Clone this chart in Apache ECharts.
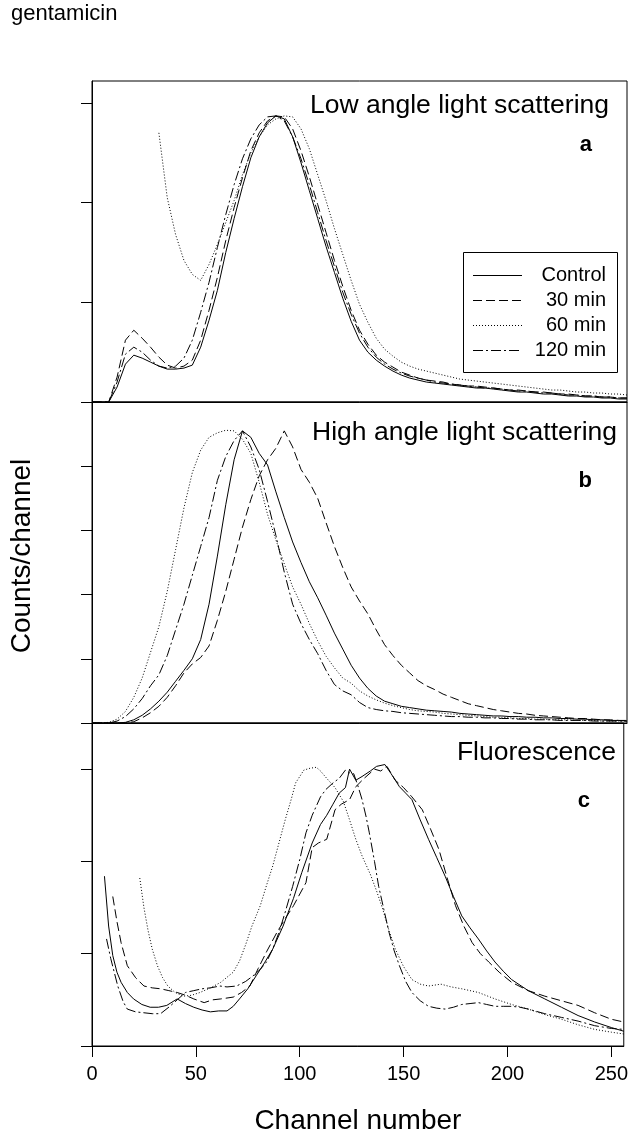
<!DOCTYPE html>
<html><head><meta charset="utf-8">
<script src="https://cdn.jsdelivr.net/npm/echarts@6/dist/echarts.min.js"></script>
<style>html,body{margin:0;padding:0;background:#fff}#c{width:631px;height:1136px}</style>
</head><body><div id="c"></div>
<script>
// Channel grid used for panels a and b
const CH = [0,4,8,12,16,20,24,28,32,36,40,44,48,52,56,60,64,68,72,76,80,84,88,92,96,100,104,108,112,116,120,124,128,132,136,140,144,148,152,156,160,164,168,172,176,180,184,188,192,196,200,204,208,212,216,220,224,228,232,236,240,244,248,252,256];
const SERIES_NAMES = ['Control','30 min','60 min','120 min'];
const X_TICKS = [0,50,100,150,200,250];
const Y_TICKS_A = [0,1,2,3];
const Y_TICKS_B = [0,1,2,3,4];
const Y_TICKS_C = [0,1,2,3];

// Panel a: Low angle light scattering
const ctrlA = [0,0,0,0.15,0.38,0.47,0.44,0.40, 0.36,0.33,0.33,0.34,0.37,0.55,0.82,1.12, 1.50,1.84,2.16,2.45,2.66,2.80,2.87,2.84, 2.66,2.40,2.12,1.84,1.56,1.30,1.04,0.81, 0.62,0.50,0.42,0.36,0.31,0.27,0.24,0.22, 0.20,0.19,0.18,0.17,0.16,0.15,0.14,0.14, 0.13,0.12,0.11,0.10,0.10,0.09,0.08,0.08, 0.07,0.06,0.06,0.05,0.05,0.04,0.04,0.03, 0.03];
const m30A = [0,0,0,0.25,0.62,0.72,0.64,0.55, 0.45,0.37,0.34,0.36,0.42,0.62,0.92,1.25, 1.62,1.95,2.25,2.52,2.70,2.82,2.87,2.86, 2.74,2.52,2.26,1.98,1.70,1.42,1.16,0.92, 0.72,0.58,0.47,0.40,0.35,0.30,0.27,0.24, 0.22,0.21,0.20,0.18,0.17,0.16,0.16,0.15, 0.14,0.13,0.12,0.12,0.11,0.10,0.10,0.09, 0.08,0.08,0.07,0.06,0.06,0.05,0.05,0.04, 0.04];
const m60A = [null,null,null,null,null,null,null,null, 2.70,2.05,1.68,1.42,1.28,1.22,1.38,1.58, 1.80,2.02,2.28,2.50,2.66,2.78,2.84,2.87, 2.86,2.74,2.54,2.28,2.02,1.74,1.48,1.22, 0.98,0.80,0.64,0.53,0.46,0.40,0.36,0.33, 0.31,0.29,0.27,0.25,0.23,0.22,0.21,0.20, 0.19,0.18,0.17,0.16,0.15,0.14,0.13,0.12, 0.12,0.11,0.10,0.10,0.09,0.09,0.08,0.08, 0.07];
const m120A = [0,0,0,0.20,0.48,0.55,0.50,0.42, 0.36,0.34,0.36,0.44,0.62,0.90,1.20,1.55, 1.88,2.18,2.44,2.64,2.78,2.86,2.87,2.82, 2.66,2.44,2.18,1.90,1.62,1.36,1.10,0.88, 0.69,0.55,0.45,0.38,0.33,0.29,0.26,0.24, 0.22,0.20,0.19,0.18,0.17,0.16,0.15,0.14, 0.14,0.13,0.12,0.11,0.11,0.10,0.09,0.09, 0.08,0.07,0.07,0.06,0.06,0.05,0.05,0.04, 0.04];

// Panel b: High angle light scattering
const ctrlB = [0,0,0,0,0.01,0.05,0.12,0.22, 0.34,0.48,0.65,0.82,1.00,1.30,1.85,2.60, 3.40,4.10,4.55,4.45,4.20,4.02,3.60,3.20, 2.82,2.50,2.20,1.95,1.68,1.40,1.15,0.90, 0.70,0.54,0.42,0.34,0.30,0.26,0.24,0.22, 0.20,0.19,0.18,0.17,0.15,0.14,0.13,0.12, 0.11,0.11,0.10,0.10,0.09,0.09,0.08,0.08, 0.07,0.07,0.06,0.06,0.05,0.05,0.04,0.04, 0.03];
const m30B = [0,0,0,0,0,0.02,0.08,0.16, 0.26,0.40,0.58,0.78,0.92,1.02,1.20,1.60, 2.05,2.55,3.05,3.48,3.85,4.10,4.28,4.55, 4.30,3.95,3.75,3.50,3.12,2.75,2.42,2.12, 1.90,1.70,1.45,1.22,1.05,0.90,0.78,0.66, 0.58,0.52,0.45,0.40,0.35,0.30,0.27,0.24, 0.21,0.19,0.17,0.15,0.14,0.12,0.11,0.10, 0.09,0.08,0.07,0.07,0.06,0.05,0.05,0.04, 0.04];
const m60B = [0,0,0.01,0.06,0.18,0.40,0.70,1.10, 1.50,2.05,2.70,3.35,3.90,4.25,4.45,4.52, 4.56,4.55,4.42,4.20,3.75,3.25,2.85,2.48, 2.12,1.85,1.55,1.28,1.04,0.86,0.70,0.62, 0.50,0.42,0.36,0.31,0.27,0.24,0.21,0.19, 0.18,0.17,0.15,0.14,0.13,0.12,0.11,0.10, 0.09,0.09,0.08,0.07,0.07,0.06,0.06,0.05, 0.05,0.05,0.04,0.04,0.04,0.03,0.03,0.03, 0.03];
const m120B = [0,0,0,0.03,0.10,0.22,0.38,0.58, 0.75,1.05,1.45,1.85,2.30,2.75,3.20,3.78, 4.15,4.40,4.55,4.30,3.95,3.45,2.92,2.35, 1.85,1.55,1.30,1.08,0.82,0.60,0.50,0.44, 0.32,0.24,0.21,0.19,0.18,0.16,0.15,0.14, 0.13,0.12,0.11,0.10,0.10,0.09,0.09,0.08, 0.08,0.07,0.07,0.06,0.06,0.05,0.05,0.05, 0.04,0.04,0.04,0.04,0.03,0.03,0.03,0.03, 0.03];

// Panel c: Fluorescence  ([channel, counts])
const ctrlC = [[6,1.84],[8,1.3],[10,0.98],[12,0.8],[14,0.69],[17,0.58],[20,0.51],[24,0.45],[28,0.42],[32,0.42],[36,0.44],[41,0.51],[45,0.46],[49,0.42],[53,0.39],[57,0.37],[61,0.38],[65,0.38],[68,0.43],[71,0.51],[75,0.62],[79,0.76],[83,0.9],[87,1.05],[92,1.3],[97,1.6],[101,1.88],[106,2.2],[110,2.4],[113,2.5],[116,2.62],[119,2.74],[122,2.8],[124,3.0],[127,2.88],[130,2.92],[134,2.98],[137,3.03],[141,3.05],[144,2.95],[148,2.81],[151,2.74],[154,2.67],[158,2.45],[162,2.24],[166,2.04],[170,1.84],[174,1.62],[178,1.41],[182,1.28],[186,1.16],[190,1.03],[194,0.91],[198,0.81],[202,0.72],[210,0.6],[218,0.51],[226,0.42],[234,0.33],[242,0.26],[250,0.2],[256,0.16]];
const m30C = [[10,1.62],[12,1.35],[14,1.12],[17,0.87],[21,0.74],[25,0.65],[29,0.63],[33,0.62],[37,0.6],[41,0.58],[45,0.55],[49,0.51],[54,0.47],[58,0.5],[62,0.51],[68,0.53],[72,0.58],[76,0.65],[80,0.84],[84,1.02],[89,1.23],[93,1.38],[97,1.52],[103,1.77],[106,2.15],[109,2.2],[113,2.24],[117,2.56],[120,2.62],[124,2.67],[127,2.81],[131,2.9],[136,3.0],[139,2.98],[142,3.03],[146,2.88],[150,2.8],[154,2.7],[159,2.56],[163,2.35],[167,2.13],[171,1.82],[175,1.52],[179,1.3],[183,1.12],[187,1.0],[191,0.91],[196,0.8],[202,0.69],[210,0.6],[218,0.54],[226,0.49],[234,0.44],[242,0.36],[250,0.29],[256,0.26]];
const m60C = [[23,1.82],[25,1.5],[27,1.25],[29,1.05],[31.5,0.87],[34,0.74],[36.5,0.65],[40,0.58],[44,0.54],[48,0.55],[52,0.58],[57,0.63],[62,0.69],[68,0.8],[71,0.92],[74,1.1],[77,1.3],[81,1.52],[84,1.74],[87,1.95],[90,2.2],[93,2.45],[96,2.68],[98,2.85],[102,2.99],[105,3.01],[108,3.02],[110,2.98],[113,2.9],[117,2.8],[121,2.65],[124,2.45],[127,2.24],[130,2.06],[134,1.86],[137,1.68],[140,1.48],[143,1.25],[146,1.05],[150,0.86],[154,0.72],[158,0.67],[162,0.65],[168,0.67],[173,0.64],[178,0.62],[186,0.58],[194,0.51],[202,0.45],[210,0.4],[218,0.34],[226,0.29],[234,0.23],[242,0.18],[250,0.15],[256,0.13]];
const m120C = [[7,1.16],[9,0.95],[12.4,0.65],[15,0.48],[17,0.4],[21,0.37],[25,0.36],[29,0.35],[33,0.35],[37.5,0.43],[41,0.5],[45,0.58],[49,0.6],[53,0.62],[57,0.63],[61.6,0.65],[65,0.64],[69.6,0.65],[74,0.7],[77.5,0.76],[81,0.83],[84,0.91],[87,1.05],[90,1.23],[93,1.45],[96.6,1.73],[100,2.02],[103,2.31],[106,2.5],[108,2.6],[110,2.7],[112.6,2.78],[116,2.85],[119,2.9],[122,2.99],[124,2.96],[126,2.95],[128,2.82],[130,2.67],[132,2.48],[133.5,2.31],[136,2.0],[138,1.73],[140.5,1.48],[143,1.23],[145.5,1.03],[148,0.87],[151,0.7],[154,0.58],[158,0.49],[162,0.43],[166,0.41],[170,0.4],[174,0.42],[178,0.45],[182,0.46],[186,0.47],[190,0.45],[194,0.43],[198,0.43],[202,0.43],[206,0.42],[210,0.4],[218,0.35],[226,0.31],[234,0.27],[242,0.22],[250,0.19],[256,0.18]];

const FONT = '"Liberation Sans", Arial, Helvetica, sans-serif';
const DASHES = ['solid', [9,4], [1,2], [10,3,2,3]];

function zip(xs, ys){ return xs.map((x,i)=>[x, ys[i]]); }

const panels = [
  {top:81, height:321, max:3.22, ticks:Y_TICKS_A, data:[zip(CH,ctrlA),zip(CH,m30A),zip(CH,m60A),zip(CH,m120A)]},
  {top:402, height:321, max:5, ticks:Y_TICKS_B, data:[zip(CH,ctrlB),zip(CH,m30B),zip(CH,m60B),zip(CH,m120B)]},
  {top:723, height:324, max:3.5, ticks:Y_TICKS_C, data:[ctrlC,m30C,m60C,m120C]}
];

const grids = [], xAxes = [], yAxes = [], series = [];
panels.forEach((p, i) => {
  grids.push({left:92, right:4, top:p.top, height:p.height, show:true, borderColor:'#000', borderWidth:1, backgroundColor:'transparent'});
  const last = i === panels.length - 1;
  xAxes.push({
    type:'value', gridIndex:i, min:0, max:256,
    axisLine:{show:true, lineStyle:{color:'#000', width:1}},
    axisTick:{show:last, length:11, lineStyle:{color:'#000'}, customValues:X_TICKS},
    axisLabel:{show:last, color:'#000', fontSize:20, fontFamily:FONT, margin:18, customValues:X_TICKS},
    splitLine:{show:false},
    name: last ? 'Channel number' : '', nameLocation:'middle', nameGap:61,
    nameTextStyle:{color:'#000', fontSize:28, fontFamily:FONT}
  });
  yAxes.push({
    type:'value', gridIndex:i, min:0, max:p.max,
    axisLine:{show:true, lineStyle:{color:'#000', width:1}},
    axisTick:{show:true, length:11, lineStyle:{color:'#000'}, customValues:p.ticks},
    axisLabel:{show:false},
    splitLine:{show:false}
  });
  p.data.forEach((d, k) => {
    series.push({
      type:'line', name:SERIES_NAMES[k], xAxisIndex:i, yAxisIndex:i, data:d,
      showSymbol:false, symbol:'none', connectNulls:false, silent:true,
      lineStyle:{color:'#000', width:1, type:DASHES[k]}
    });
  });
});

const graphics = [
  {type:'text', x:11, y:14, style:{text:'gentamicin', fill:'#000', font:'22px '+FONT, align:'left', verticalAlign:'middle'}},
  {type:'text', x:22, y:556, rotation:Math.PI/2, style:{text:'Counts/channel', fill:'#000', font:'28px '+FONT, align:'center', verticalAlign:'middle'}},
  {type:'text', x:609, y:106, style:{text:'Low angle light scattering', fill:'#000', font:'26.5px '+FONT, align:'right', verticalAlign:'middle'}},
  {type:'text', x:592, y:145, style:{text:'a', fill:'#000', font:'bold 22px '+FONT, align:'right', verticalAlign:'middle'}},
  {type:'text', x:617, y:433, style:{text:'High angle light scattering', fill:'#000', font:'26.5px '+FONT, align:'right', verticalAlign:'middle'}},
  {type:'text', x:592, y:481, style:{text:'b', fill:'#000', font:'bold 22px '+FONT, align:'right', verticalAlign:'middle'}},
  {type:'text', x:616, y:753, style:{text:'Fluorescence', fill:'#000', font:'26.5px '+FONT, align:'right', verticalAlign:'middle'}},
  {type:'text', x:590, y:801, style:{text:'c', fill:'#000', font:'bold 22px '+FONT, align:'right', verticalAlign:'middle'}},
  {type:'rect', shape:{x:463.5, y:252.5, width:154, height:120}, style:{fill:'rgba(0,0,0,0)', stroke:'#000', lineWidth:1}}
];
const legendRows = [275, 300, 325, 350];
SERIES_NAMES.forEach((n, k) => {
  graphics.push({type:'line', shape:{x1:473, y1:legendRows[k]+0.5, x2:522, y2:legendRows[k]+0.5},
    style:{stroke:'#000', lineWidth:1, lineDash: k===0 ? null : DASHES[k]}});
  graphics.push({type:'text', x:606, y:legendRows[k], style:{text:n, fill:'#000', font:'20px '+FONT, align:'right', verticalAlign:'middle'}});
});

const chart = echarts.init(document.getElementById('c'), null, {renderer:'canvas'});
chart.setOption({
  animation:false,
  backgroundColor:'#fff',
  grid:grids, xAxis:xAxes, yAxis:yAxes, series:series,
  graphic:graphics
});
</script></body></html>
